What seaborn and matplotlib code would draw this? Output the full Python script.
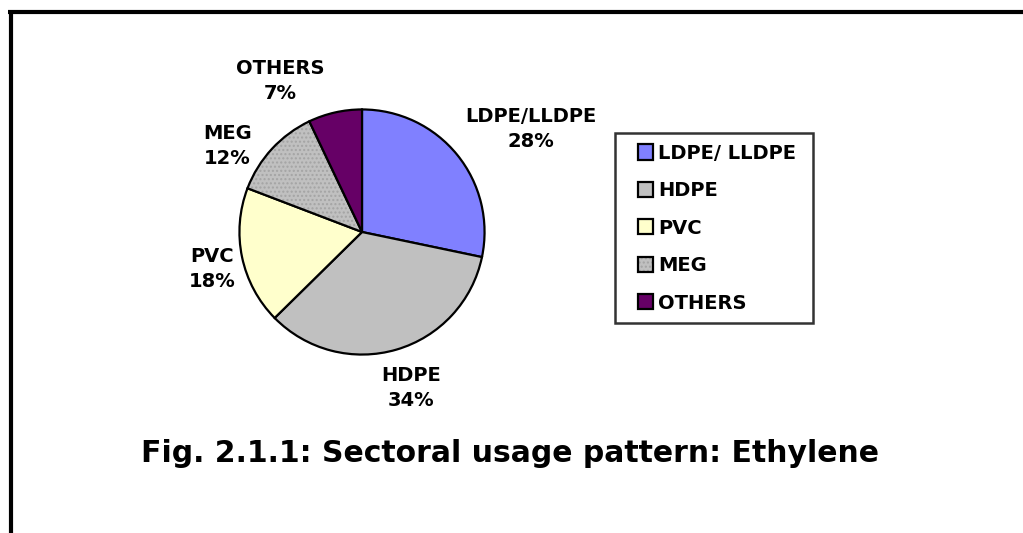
import numpy as np
import matplotlib
matplotlib.use("Agg")
import matplotlib.pyplot as plt
from matplotlib.colors import to_rgba
from matplotlib.lines import Line2D
from matplotlib.patches import Rectangle
from matplotlib.legend_handler import HandlerPatch
import seaborn as sns

sns.set_style("white")
plt.rcParams.update({"font.family": "DejaVu Sans", "font.weight": "bold",
                     "text.color": "black"})

# data
sectors = ["LDPE/LLDPE", "HDPE", "PVC", "MEG", "OTHERS"]
legend_names = ["LDPE/ LLDPE ", "HDPE", "PVC", "MEG", "OTHERS"]
shares = [28, 34, 18, 12, 7]
colors = ["#8080FF", "#C0C0C0", "#FFFFCC", "#C0C0C0", "#660066"]

# label placement (in pie radius units)
label_xy = [(1.38, 0.84), (0.40, -1.27), (-1.22, -0.30), (-1.10, 0.70), (-0.67, 1.23)]


def dotted(p):
    # fine grey dither like the original MEG fill
    p.set_hatch("....")
    p._hatch_color = to_rgba("#A4A4A4")


def square_handle(legend, orig_handle, xdescent, ydescent, width, height, fontsize):
    # square sitting at the right end of the handle box
    return Rectangle((-xdescent + width - height, -ydescent), height, height)


fig = plt.figure(figsize=(10.23, 5.33), dpi=100)
ax = fig.add_axes([237 / 1023, (533 - 357) / 533, 250 / 1023, 250 / 533])

wedges, texts = ax.pie(shares, colors=colors, startangle=90, counterclock=False,
                       wedgeprops={"edgecolor": "black", "linewidth": 1.6},
                       labels=[f"{s}\n{v}%" for s, v in zip(sectors, shares)],
                       textprops={"fontsize": 14, "fontweight": "bold",
                                  "ha": "center", "va": "center",
                                  "linespacing": 1.4})
for t, xy in zip(texts, label_xy):
    t.set_position(xy)
    t.set_ha("center")
    t.set_va("center")

dotted(wedges[3])
ax.set_xlim(-1.02, 1.02)
ax.set_ylim(-1.02, 1.02)
ax.axis("off")

leg = fig.legend(wedges, legend_names, loc="upper left",
                 bbox_to_anchor=(615 / 1023, 1 - 133 / 533),
                 prop={"size": 14, "weight": "bold"}, frameon=True, fancybox=False,
                 handler_map={w: HandlerPatch(patch_func=square_handle) for w in wedges},
                 handlelength=1.4, handleheight=0.82, handletextpad=0.25,
                 labelspacing=0.95, borderpad=0.55, borderaxespad=0)
leg.get_frame().set_edgecolor("black")
leg.get_frame().set_linewidth(1.8)
for h in leg.legend_handles:
    h.set_edgecolor("black")
    h.set_linewidth(1.6)
dotted(leg.legend_handles[3])

fig.text(510 / 1023, 1 - 453 / 533, "Fig. 2.1.1: Sectoral usage pattern: Ethylene",
         ha="center", va="center", fontsize=21.5, fontweight="bold")

# frame lines (top and left)
fig.add_artist(Line2D([8 / 1023, 1], [1 - 11.5 / 533] * 2, color="black", lw=3,
                      solid_capstyle="butt"))
fig.add_artist(Line2D([10.5 / 1023] * 2, [1 - 10 / 533, 0], color="black", lw=3,
                      solid_capstyle="butt"))

fig.savefig("out.png", dpi=100)
